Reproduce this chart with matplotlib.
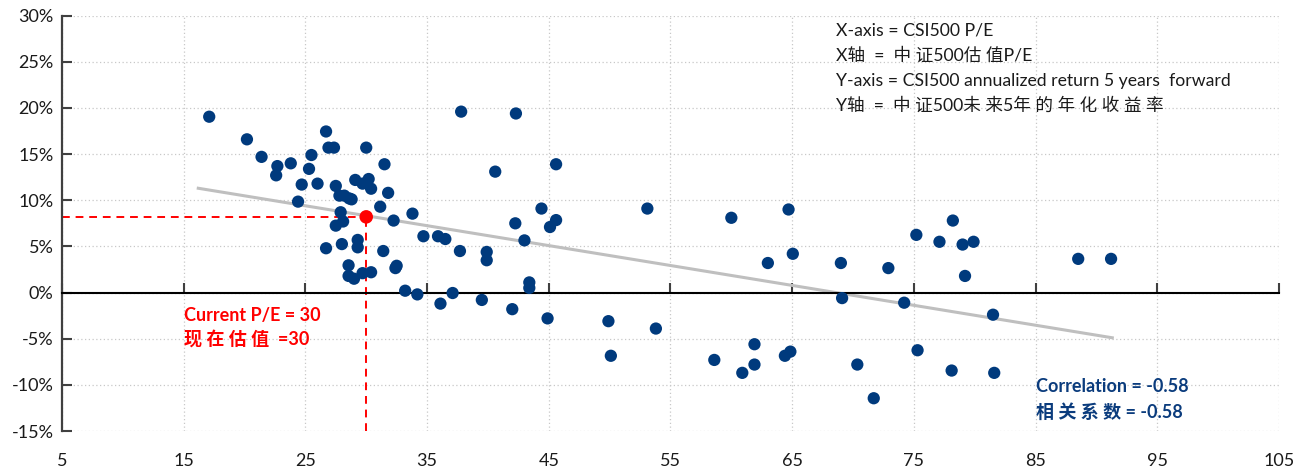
import numpy as np
import matplotlib.pyplot as plt
from matplotlib.ticker import FuncFormatter

# CSI500 P/E vs 5y forward annualized return (%)
pe = [17.1, 20.2, 21.4, 22.7, 22.6, 23.8, 25.5, 25.3, 24.7, 26.0, 24.4, 26.7, 26.9, 27.35,
      30.0, 31.5, 27.5, 29.1, 29.7, 30.2, 30.4, 31.8, 27.8, 28.2, 28.6, 28.8, 31.15, 33.8,
      32.25, 27.9, 28.1, 27.5, 29.3, 29.3, 28.0, 26.7, 31.4, 32.5, 32.4, 34.7, 28.55, 28.55,
      29.0, 29.7, 30.4, 33.2, 34.2,
      37.8, 35.9, 36.5, 37.7, 36.1, 37.1,
      42.3, 40.6, 45.6, 44.4, 42.25, 45.6, 45.1, 43.0, 39.9, 39.9, 43.4, 43.4, 39.5, 42.0,
      44.9, 49.9, 50.1, 53.1,
      60.0, 64.7, 63.0, 65.05, 69.0, 69.1, 53.8, 58.6, 61.9, 61.9, 60.9, 64.4, 64.85, 70.35, 71.7,
      72.9, 75.2, 78.2, 77.1, 79.0, 79.9, 79.2, 88.5, 91.2, 74.2, 81.5, 75.3, 78.1, 81.6]
ret = [19.05, 16.6, 14.7, 13.7, 12.7, 14.0, 14.9, 13.4, 11.7, 11.8, 9.85, 17.45, 15.7, 15.7,
       15.7, 13.9, 11.55, 12.2, 11.8, 12.3, 11.25, 10.8, 10.5, 10.5, 10.2, 10.1, 9.3, 8.55,
       7.8, 8.7, 7.7, 7.25, 5.7, 4.9, 5.25, 4.8, 4.5, 2.9, 2.65, 6.1, 2.95, 1.8,
       1.5, 2.1, 2.2, 0.2, -0.2,
       19.6, 6.1, 5.8, 4.5, -1.2, -0.05,
       19.4, 13.1, 13.9, 9.1, 7.5, 7.85, 7.1, 5.65, 4.4, 3.5, 1.1, 0.5, -0.8, -1.8,
       -2.8, -3.1, -6.85, 9.1,
       8.1, 9.0, 3.2, 4.2, 3.2, -0.6, -3.9, -7.3, -5.6, -7.8, -8.7, -6.85, -6.4, -7.8, -11.45,
       2.65, 6.25, 7.8, 5.5, 5.2, 5.5, 1.8, 3.65, 3.65, -1.1, -2.4, -6.25, -8.45, -8.7]

current_pe = 30
current_ret = 8.2

trend_x = [16.2, 91.3]
trend_y = [11.3, -4.9]

xticks = list(range(5, 106, 10))
yticks = list(range(-15, 31, 5))

fonts = ['Lato', 'Noto Sans CJK SC', 'DejaVu Sans']
plt.rcParams['font.family'] = fonts

fig = plt.figure(figsize=(13.07, 4.74), dpi=100)
ax = fig.add_axes([0.0474, 0.0907, 0.9312, 0.8763])

ax.set_xlim(5, 105)
ax.set_ylim(-15, 30)
ax.set_xticks(xticks)
ax.set_yticks(yticks)
ax.grid(True, color='#c8c8c8', linestyle=(0, (1, 2)), linewidth=0.9)
ax.set_axisbelow(True)

ax.plot(trend_x, trend_y, color='#bfbfbf', linewidth=2.2, zorder=2)
ax.scatter(pe, ret, s=78, color='#003A7D', edgecolors='none', zorder=3)

# current valuation marker + guides
ax.plot([5, current_pe], [current_ret, current_ret], color='red', linestyle=(0, (4, 3)), linewidth=1.4, zorder=2)
ax.plot([current_pe, current_pe], [-15, current_ret], color='red', linestyle=(0, (4, 3)), linewidth=1.4, zorder=2)
ax.scatter([current_pe], [current_ret], s=95, color='red', edgecolors='none', zorder=4)

for side in ['top', 'right']:
    ax.spines[side].set_visible(False)
ax.spines['left'].set_color('#404040')
ax.spines['left'].set_linewidth(1.6)
ax.spines['bottom'].set_position(('data', 0))
ax.spines['bottom'].set_color('black')
ax.spines['bottom'].set_linewidth(1.5)

ax.tick_params(axis='x', direction='in', length=7, width=1.5, color='#404040', labelbottom=False)
ax.tick_params(axis='y', direction='in', length=7, width=1.5, color='#404040',
               labelsize=13, labelcolor='#1a1a1a', pad=6)
ax.yaxis.set_major_formatter(FuncFormatter(lambda v, p: f'{v:.0f}%'))

sec = ax.secondary_xaxis(0)
sec.set_xticks(xticks)
sec.spines['bottom'].set_visible(False)
sec.tick_params(length=0, labelsize=13, labelcolor='#1a1a1a', pad=16)

ax.text(15.0, -2.5, 'Current P/E = 30', color='red', fontsize=13, fontweight='bold', va='center')
ax.text(15.0, -5.0, '现 在 估 值  =30', color='red', fontsize=13, fontweight='bold', va='center')

ax.text(85.0, -10.2, 'Correlation = -0.58', color='#0B3C7D', fontsize=13, fontweight='bold', va='center')
ax.text(85.0, -12.9, '相 关 系 数 = -0.58', color='#0B3C7D', fontsize=13, fontweight='bold', va='center')

notes = ['X-axis = CSI500 P/E',
         'X轴  =  中 证500估 值P/E',
         'Y-axis = CSI500 annualized return 5 years  forward',
         'Y轴  =  中 证500未 来5年 的 年 化 收 益 率']
for i, line in enumerate(notes):
    ax.text(68.6, 28.4 - i * 2.73, line, color='#1a1a1a', fontsize=12.7, va='center')

fig.savefig('out.png', dpi=100)
